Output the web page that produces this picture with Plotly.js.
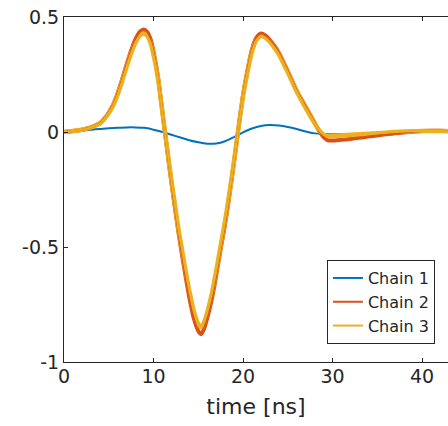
<!DOCTYPE html>
<html>
<head>
<meta charset="utf-8">
<script src="https://cdn.plot.ly/plotly-3.0.1.min.js"></script>
<style>html,body{margin:0;padding:0;background:#fff;}#chart{width:448px;height:426px;}</style>
</head>
<body>
<div id="chart"></div>
<script>
// Chain 1 (blue)
const tChain1 = [0,1,2,3,4,5,6,7,8,9,10,11,12,13,14,15,16,17,18,19,20,21,22,23,24,25,26,27,28,29,30,31,32,33,34,35,36,37,38,39,40,41,42,43];
const yChain1 = [0,0.003,0.006,0.01,0.013,0.016,0.018,0.02,0.02,0.018,0.01,0.0,-0.012,-0.024,-0.036,-0.045,-0.051,-0.05,-0.04,-0.022,-0.002,0.015,0.026,0.03,0.028,0.022,0.013,0.002,-0.006,-0.009,-0.01,-0.01,-0.01,-0.009,-0.008,-0.007,-0.005,-0.004,-0.002,-0.001,0,0.001,0.001,0.001];

// Chains 2 and 3 share the same time samples
const tPulse = [0,1,2,3,4,4.5,5,5.5,6,6.5,7,7.5,8,8.5,8.9,9.3,9.7,10.1,10.5,11,11.5,12,12.5,12.8,13,13.5,14,14.5,15,15.3,15.6,16,16.5,17,17.5,18,18.5,19,19.5,20,20.5,21,21.5,22,22.5,23,23.5,24,25,26,27,28,28.5,29,29.5,30,31,32,33,34,35,36,37,38,39,40,41,42,43];
const yChain2 = [0,0.004,0.01,0.02,0.038,0.058,0.085,0.12,0.17,0.23,0.295,0.355,0.405,0.437,0.446,0.435,0.40,0.33,0.24,0.085,-0.07,-0.22,-0.36,-0.44,-0.49,-0.61,-0.72,-0.81,-0.865,-0.878,-0.86,-0.81,-0.73,-0.625,-0.51,-0.40,-0.27,-0.13,0.02,0.16,0.27,0.36,0.41,0.428,0.42,0.40,0.375,0.345,0.265,0.18,0.11,0.04,0.005,-0.022,-0.036,-0.037,-0.034,-0.03,-0.025,-0.02,-0.015,-0.01,-0.006,-0.002,0.001,0.004,0.005,0.005,0.004];
const yChain3 = [0,0.004,0.01,0.02,0.037,0.056,0.082,0.116,0.164,0.222,0.285,0.343,0.39,0.42,0.428,0.418,0.385,0.318,0.232,0.085,-0.065,-0.21,-0.345,-0.425,-0.47,-0.585,-0.69,-0.78,-0.835,-0.848,-0.832,-0.785,-0.705,-0.605,-0.495,-0.385,-0.26,-0.125,0.02,0.155,0.262,0.35,0.4,0.418,0.41,0.392,0.367,0.338,0.26,0.176,0.105,0.038,0.008,-0.012,-0.018,-0.017,-0.015,-0.012,-0.01,-0.008,-0.005,-0.003,0,0.002,0.003,0.004,0.004,0.004,0.003];

const seriesNames = ['Chain 1','Chain 2','Chain 3'];
const xTicks = [0,10,20,30,40];
const yTicks = [-1,-0.5,0,0.5];
const yTickText = ['-1','-0.5','0','0.5'];

const axisColor = '#262626';
const colors = ['#0072BD', '#D95319', '#EDB120'];
const sp = {shape: 'spline', smoothing: 0.8};

const traces = [
  {x: tChain1, y: yChain1, name: seriesNames[0], type: 'scatter', mode: 'lines',
   line: Object.assign({color: colors[0], width: 2}, sp)},
  // ensemble bands (thick), hidden from legend
  {x: tPulse, y: yChain2, name: seriesNames[1], type: 'scatter', mode: 'lines', showlegend: false,
   line: Object.assign({color: colors[1], width: 4}, sp)},
  {x: tPulse, y: yChain3, name: seriesNames[2], type: 'scatter', mode: 'lines', showlegend: false,
   line: Object.assign({color: colors[2], width: 4.5}, sp)},
  // centre lines carrying the legend entries
  {x: tPulse, y: yChain2, name: seriesNames[1], type: 'scatter', mode: 'lines',
   line: Object.assign({color: colors[1], width: 2}, sp), hoverinfo: 'skip'},
  {x: tPulse, y: yChain3, name: seriesNames[2], type: 'scatter', mode: 'lines',
   line: Object.assign({color: colors[2], width: 2}, sp), hoverinfo: 'skip'}
];

const layout = {
  width: 448, height: 426,
  margin: {l: 64, r: 0, t: 17, b: 64},
  paper_bgcolor: '#fff', plot_bgcolor: '#fff',
  font: {family: 'DejaVu Sans, sans-serif', color: axisColor, size: 19},
  showlegend: true,
  legend: {x: 0.966, y: 0.052, xanchor: 'right', yanchor: 'bottom',
           bgcolor: '#fff', bordercolor: axisColor, borderwidth: 1,
           font: {size: 16, color: axisColor}, tracegroupgap: 0, traceorder: 'normal'},
  xaxis: {range: [0, 42.9], tickvals: xTicks, ticktext: xTicks.map(String),
          ticks: 'inside', ticklen: 4, tickcolor: axisColor, tickwidth: 1,
          showline: true, linecolor: axisColor, linewidth: 1, mirror: 'ticks',
          showgrid: false, zeroline: false, ticklabelstandoff: -3,
          tickfont: {size: 19, color: axisColor},
          title: {text: 'time [ns]', font: {size: 22, color: axisColor}, standoff: 12}},
  yaxis: {range: [-1, 0.5], tickvals: yTicks, ticktext: yTickText,
          ticks: 'inside', ticklen: 4, tickcolor: axisColor, tickwidth: 1,
          showline: true, linecolor: axisColor, linewidth: 1,
          showgrid: false, zeroline: false,
          tickfont: {size: 19, color: axisColor}}
};

Plotly.newPlot('chart', traces, layout, {displayModeBar: false, staticPlot: true});
</script>
</body>
</html>
